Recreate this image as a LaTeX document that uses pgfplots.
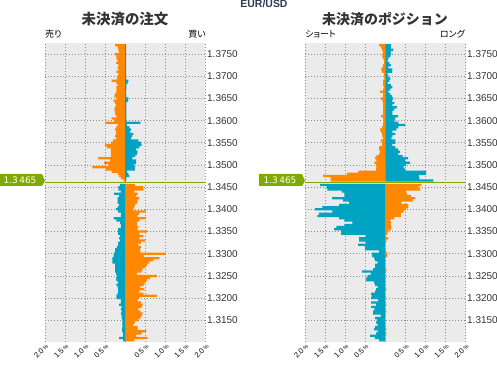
\documentclass[border=0pt]{standalone}
\usepackage{fontspec}
\setmainfont{Liberation Sans}
\newfontfamily\cjk{Noto Sans CJK JP}
\newfontfamily\cjkp{Noto Sans CJK JP}[RawFeature=+palt]
\newfontfamily\dejavu{DejaVu Sans}
\usepackage{pgfplots}
\usepackage{pgfplotstable}
\pgfplotsset{compat=1.18}
\definecolor{ordorange}{HTML}{FF8800}
\definecolor{ordblue}{HTML}{00A3C2}
\definecolor{bggray}{HTML}{EBEBEB}
\definecolor{gridgray}{HTML}{8C8C8C}
\definecolor{pricegreen}{HTML}{7FAA00}
\definecolor{titlegray}{HTML}{333333}
\definecolor{pairblue}{HTML}{2E3B55}
\newcommand\pct{{\fontsize{5.5}{5.5}\selectfont\%}}

% p = price offset in pips from 1.3000 ; o = orange ; b = blue (percent)
\pgfplotstableread{
p o b
770 -0.25 0.02
765 -0.19 0.02
760 -0.17 0.02
755 -0.15 0.02
750 -0.25 0.02
745 -0.22 0.02
740 -0.22 0.02
735 -0.19 0.02
730 -0.23 0.02
725 -0.17 0.02
720 -0.19 0.02
715 -0.17 0.02
710 -0.22 0.02
705 -0.17 0.02
700 -0.19 0.02
695 -0.21 0.02
690 -0.34 0.08
685 -0.22 0.06
680 -0.19 0.03
675 -0.22 0.03
670 -0.22 0.03
665 -0.22 0.02
660 -0.25 0.02
655 -0.27 0.03
650 -0.22 0.08
645 -0.29 0.07
640 -0.25 0.03
635 -0.23 0.03
630 -0.25 0.03
625 -0.27 0.03
620 -0.25 0.03
615 -0.25 0.03
610 -0.22 0.03
605 -0.34 0.03
600 -0.27 0.03
595 -0.50 0.375
590 -0.19 0.04
585 -0.22 0.10
580 -0.25 0.14
575 -0.23 0.12
570 -0.23 0.20
565 -0.25 0.17
560 -0.22 0.14
555 -0.30 0.33
550 -0.36 0.39
545 -0.50 0.41
540 -0.46 0.35
535 -0.36 0.27
530 -0.36 0.31
525 -0.36 0.29
520 -0.36 0.25
515 -0.675 0.18
510 -0.375 0.27
505 -0.525 0.27
500 -0.42 0.225
495 -0.82 0.24
490 -0.48 0.24
485 -0.34 0.04
480 -0.19 0.08
475 -0.15 0.10
470 -0.11 0.03
465 -0.04 0.02
455 0.24 -0.125
450 0.45 -0.17
445 0.45 -0.17
440 0.225 -0.11
435 0.31 -0.275
430 0.28 -0.15
425 0.35 -0.19
420 0.31 -0.19
415 0.29 -0.19
410 0.24 -0.15
405 0.225 -0.19
400 0.20 -0.23
395 0.52 -0.175
390 0.35 -0.11
385 0.31 -0.11
380 0.52 -0.29
375 0.35 -0.22
370 0.29 -0.13
365 0.29 -0.11
360 0.325 -0.11
355 0.31 -0.175
350 0.54 -0.175
345 0.35 -0.175
340 0.45 -0.13
335 0.35 -0.15
330 0.49 -0.13
325 0.39 -0.175
320 0.325 -0.175
315 0.39 -0.21
310 0.37 -0.25
305 0.375 -0.25
300 1.0 -0.29
295 0.46 -0.29
290 0.85 -0.32
285 0.70 -0.32
280 0.60 -0.32
275 0.54 -0.25
270 0.50 -0.25
265 0.43 -0.25
260 0.41 -0.25
255 0.29 -0.23
250 0.79 -0.21
245 0.625 -0.23
240 0.54 -0.22
235 0.50 -0.175
230 0.46 -0.22
225 0.375 -0.19
220 0.475 -0.175
215 0.35 -0.175
210 0.45 -0.19
205 0.79 -0.22
200 0.35 -0.22
195 0.31 -0.11
190 0.39 -0.11
185 0.43 -0.15
180 0.41 -0.09
175 0.325 -0.11
170 0.375 -0.09
165 0.43 -0.11
160 0.41 -0.09
155 0.375 -0.09
150 0.325 -0.07
145 0.24 -0.07
140 0.20 -0.07
135 0.31 -0.07
130 0.31 -0.08
125 0.52 -0.08
120 0.41 -0.05
115 0.27 -0.05
110 0.56 -0.15
105 0.225 -0.05
}\ordertab

\pgfplotstableread{
p o b
770 -0.15 0.14
765 -0.11 0.14
760 -0.08 0.20
755 -0.05 0.14
750 -0.07 0.14
745 -0.08 0.125
740 -0.05 0.08
735 -0.025 0.06
730 -0.025 0.10
725 -0.05 0.14
720 -0.07 0.08
715 -0.10 0.18
710 -0.08 0.17
705 -0.025 0.06
700 -0.035 0.08
695 -0.02 0.125
690 -0.05 0.10
685 -0.05 0.06
680 -0.05 0.14
675 -0.035 0.18
670 -0.05 0.125
665 -0.125 0.08
660 -0.05 0.125
655 -0.05 0.17
650 -0.10 0.20
645 -0.07 0.17
640 -0.05 0.225
635 -0.05 0.18
630 -0.05 0.29
625 -0.05 0.225
620 -0.05 0.18
615 -0.05 0.18
610 -0.10 0.32
605 -0.05 0.25
600 -0.025 0.225
595 -0.05 0.33
590 -0.05 0.50
585 -0.075 0.33
580 -0.125 0.28
575 -0.11 0.18
570 -0.08 0.25
565 -0.07 0.18
560 -0.05 0.15
555 -0.11 0.25
550 -0.08 0.25
545 -0.08 0.18
540 -0.15 0.25
535 -0.15 0.32
530 -0.13 0.37
525 -0.15 0.33
520 -0.22 0.43
515 -0.25 0.57
510 -0.22 0.50
505 -0.27 0.62
500 -0.23 0.52
495 -0.22 0.46
490 -0.23 0.50
485 -0.67 1.02
480 -0.95 1.02
475 -1.55 0.84
470 -1.36 0.85
465 -1.36 1.20
455 0.90 -1.625
450 0.83 -1.46
445 0.875 -1.44
440 0.52 -1.09
435 0.54 -1.02
430 0.64 -1.02
425 0.75 -1.325
420 0.68 -1.05
415 0.40 -0.90
410 0.575 -1.15
405 0.575 -1.57
400 0.52 -1.75
395 0.46 -1.32
390 0.39 -1.65
385 0.39 -1.69
380 0.225 -1.15
375 0.125 -1.02
370 0.14 -0.82
365 0.14 -1.02
360 0.15 -1.22
355 0.14 -1.275
350 0.08 -1.10
345 0.04 -1.10
340 0 -0.48
335 0.075 -0.65
330 0.035 -0.65
325 0 -0.48
320 0 -0.675
315 0 -0.50
310 0 -0.50
305 0.025 -0.15
300 0.05 -0.33
295 0.05 -0.33
290 0 -0.275
285 0 -0.25
280 0 -0.19
275 0 -0.25
270 0 -0.25
265 0.025 -0.30
260 0.025 -0.58
255 0 -0.36
250 0 -0.44
245 0 -0.47
240 0 -0.48
235 0 -0.275
230 0 -0.25
225 0 -0.19
220 0.025 -0.23
215 0 -0.25
210 0 -0.35
205 0 -0.34
200 0 -0.35
195 0 -0.175
190 0 -0.35
185 0.025 -0.23
180 0 -0.35
175 0 -0.27
170 0.025 -0.30
165 0 -0.30
160 0 -0.11
155 0 -0.25
150 0 -0.21
145 0 -0.23
140 0 -0.19
135 0 -0.25
130 0.025 -0.275
125 0 -0.19
120 0.025 -0.23
115 0 -0.375
110 0 -0.26
105 0 -0.15
}\positiontab

\pgfplotsset{
  bookpanel/.style={
    scale only axis, width=160.5bp, height=299bp,
    anchor=south west,
    xmin=-2, xmax=2, ymin=101, ymax=775,
    axis background/.style={fill=bggray},
    axis line style={draw=none},
    major tick length=0pt,
    xtick={-2,-1.5,-1,-0.5,0,0.5,1,1.5,2},
    xticklabels={2.0\,\pct,1.5\,\pct,1.0\,\pct,0.5\,\pct,{},0.5\,\pct,1.0\,\pct,1.5\,\pct,2.0\,\pct},
    ytick={150,200,250,300,350,400,450,500,550,600,650,700,750},
    yticklabels={1.3150,1.3200,1.3250,1.3300,1.3350,1.3400,1.3450,1.3500,1.3550,1.3600,1.3650,1.3700,1.3750},
    yticklabel pos=right,
    grid=major,
    major grid style={gridgray, line width=0.8bp, dash pattern=on 0.9bp off 2.1bp},
    yticklabel style={font=\fontsize{10}{11}\selectfont, text=titlegray, inner sep=1.5bp},
    xticklabel style={rotate=45, anchor=north east, font=\fontsize{7.5}{8}\selectfont, text=black, inner sep=0.8bp},
  },
  barstyle/.style={xbar, bar shift=0pt, bar width=5.05, draw=none},
}

\begin{document}
\begin{tikzpicture}
\useasboundingbox (0,0) rectangle (497bp,365bp);

\begin{axis}[bookpanel, at={(45bp,23bp)}]
\addplot[barstyle, fill=ordorange] table[x=o, y=p] {\ordertab};
\addplot[barstyle, fill=ordblue] table[x=b, y=p] {\ordertab};
\addplot[sharp plot, pricegreen, line width=1.5bp] coordinates {(-2,461) (2,461)};
\end{axis}

\begin{axis}[bookpanel, at={(305bp,23bp)}]
\addplot[barstyle, fill=ordorange] table[x=o, y=p] {\positiontab};
\addplot[barstyle, fill=ordblue] table[x=b, y=p] {\positiontab};
\addplot[sharp plot, pricegreen, line width=1.5bp] coordinates {(-2,461) (2,461)};
\end{axis}

% price tags
\fill[pricegreen] (0bp,179bp) -- (42bp,179bp) -- (45bp,184bp) -- (42bp,191bp) -- (0bp,191bp) -- cycle;
\node[font=\dejavu\fontsize{9}{10}\selectfont, text=white, anchor=center] at (20bp,185bp) {1.3\,465};
\fill[pricegreen] (259bp,179bp) -- (302bp,179bp) -- (305bp,184bp) -- (302bp,191bp) -- (259bp,191bp) -- cycle;
\node[font=\dejavu\fontsize{9}{10}\selectfont, text=white, anchor=center] at (280bp,185bp) {1.3\,465};

% titles
\node[font=\bfseries\fontsize{10.5}{11}\selectfont, text=pairblue, anchor=base] at (264bp,357bp) {EUR/USD};
\node[font=\cjk\bfseries\fontsize{14.5}{15}\selectfont, text=titlegray, anchor=center] at (125bp,346bp) {未決済の注文};
\node[font=\cjk\bfseries\fontsize{14}{15}\selectfont, text=titlegray, anchor=center] at (385bp,346bp) {未決済のポジション};
\node[font=\cjkp\fontsize{9}{10}\selectfont, anchor=base west, inner sep=0pt] at (45bp,327bp) {売り};
\node[font=\cjkp\fontsize{9}{10}\selectfont, anchor=base east, inner sep=0pt] at (206bp,327bp) {買い};
\node[font=\cjkp\fontsize{9}{10}\selectfont, anchor=base west, inner sep=0pt] at (305bp,327bp) {ショート};
\node[font=\cjkp\fontsize{9}{10}\selectfont, anchor=base east, inner sep=0pt] at (465bp,327bp) {ロング};
\end{tikzpicture}
\end{document}
